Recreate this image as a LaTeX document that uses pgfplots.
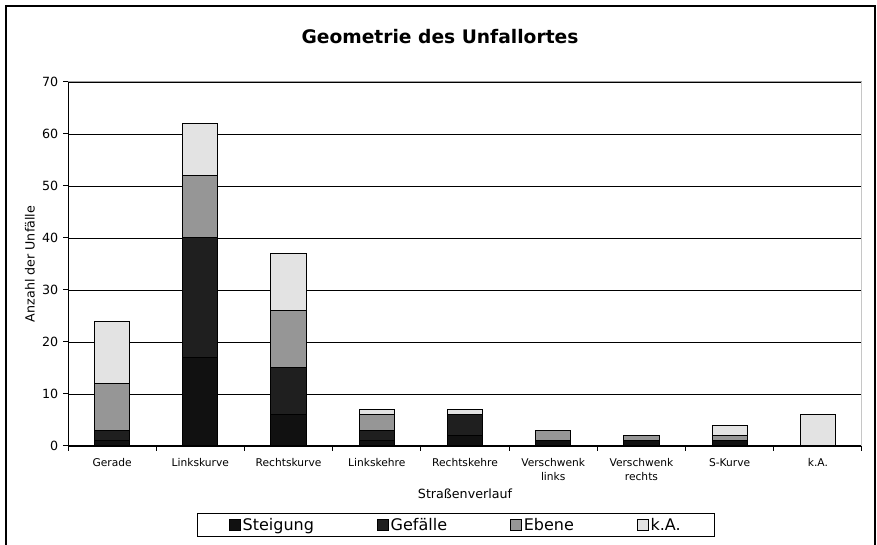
\documentclass[border=0pt]{standalone}
\usepackage{pgfplots}
\pgfplotsset{compat=1.18}
\usepackage{pgfplotstable}
\usepackage{fontspec}
\setmainfont{DejaVu Sans}

\definecolor{steig}{HTML}{111111}
\definecolor{gef}{HTML}{1F1F1F}
\definecolor{ebene}{HTML}{969696}
\definecolor{ka}{HTML}{E3E3E3}

% x: 0 Gerade ... 8 k.A.
\pgfplotstableread{
x St Ge Eb KA
0 1  2  9  12
1 17 23 12 10
2 6  9  11 11
3 1  2  3  1
4 2  4  0  1
5 1  0  2  0
6 1  0  1  0
7 1  0  1  2
8 0  0  0  6
}\unfall

\begin{document}
\begin{tikzpicture}
\useasboundingbox (0,0) rectangle (657.75pt,408.75pt);
\draw[line width=1.5pt] (4.5pt,-2pt) -- (4.5pt,404.25pt) -- (656.25pt,404.25pt) -- (656.25pt,-2pt);
\node[font=\bfseries\fontsize{14}{16}\selectfont] at (330pt,381pt) {Geometrie des Unfallortes};
\begin{axis}[
    at={(51pt,74.25pt)}, anchor=south west,
    scale only axis, width=595.5pt, height=273pt,
    ybar stacked, bar width=0.4,
    xmin=-0.5, xmax=8.5, ymin=0, ymax=70,
    ytick={0,10,...,70},
    xtick={-0.5,0.5,...,8.5},
    xticklabels={},
    extra x ticks={0,1,...,8},
    extra x tick labels={Gerade, Linkskurve, Rechtskurve, Linkskehre, Rechtskehre, {Verschwenk\\links}, {Verschwenk\\rechts}, S-Kurve, k.A.},
    extra x tick style={major tick length=0pt},
    tick align=outside,
    major tick length=3.75pt,
    axis lines*=left,
    axis line style={black, line width=0.75pt},
    tick style={black, line width=0.75pt},
    ymajorgrids, major grid style={black, line width=0.6pt},
    /pgf/number format/assume math mode=true,
    y tick label style={font=\fontsize{9.5}{11}\selectfont},
    x tick label style={font=\fontsize{8}{10.5}\selectfont, align=center, yshift=-6pt},
    xlabel={Straßenverlauf},
    ylabel={Anzahl der Unfälle},
    xlabel style={font=\fontsize{9.5}{11}\selectfont, at={(axis description cs:0.5,-0.132)}, anchor=center},
    ylabel style={font=\fontsize{9.5}{11}\selectfont, at={(axis description cs:-0.048,0.5)}, anchor=center},
    legend columns=4,
    legend image code/.code={\filldraw[#1, draw=black, line width=0.5pt] (0pt,-4pt) rectangle (8pt,4pt);},
    legend style={at={(0.4887,-0.217)}, anchor=center, draw=black, line width=0.75pt,
        font=\fontsize{12}{14}\selectfont, inner xsep=24pt, inner ysep=1pt,
        nodes={inner xsep=1.5pt},
        /tikz/every even column/.append style={column sep=46pt}},
]
\addplot[fill=steig, draw=black, line width=0.75pt] table[x=x, y=St] {\unfall};
\addlegendentry{Steigung}
\addplot[fill=gef, draw=black, line width=0.75pt] table[x=x, y=Ge] {\unfall};
\addlegendentry{Gefälle}
\addplot[fill=ebene, draw=black, line width=0.75pt] table[x=x, y=Eb] {\unfall};
\addlegendentry{Ebene}
\addplot[fill=ka, draw=black, line width=0.75pt] table[x=x, y=KA] {\unfall};
\addlegendentry{k.A.}
\draw[gray!75, line width=0.75pt] (rel axis cs:0,1) -- (rel axis cs:1,1);
\draw[gray!45, line width=1pt] (rel axis cs:1,1) -- (rel axis cs:1,0);
\end{axis}
\end{tikzpicture}
\end{document}
